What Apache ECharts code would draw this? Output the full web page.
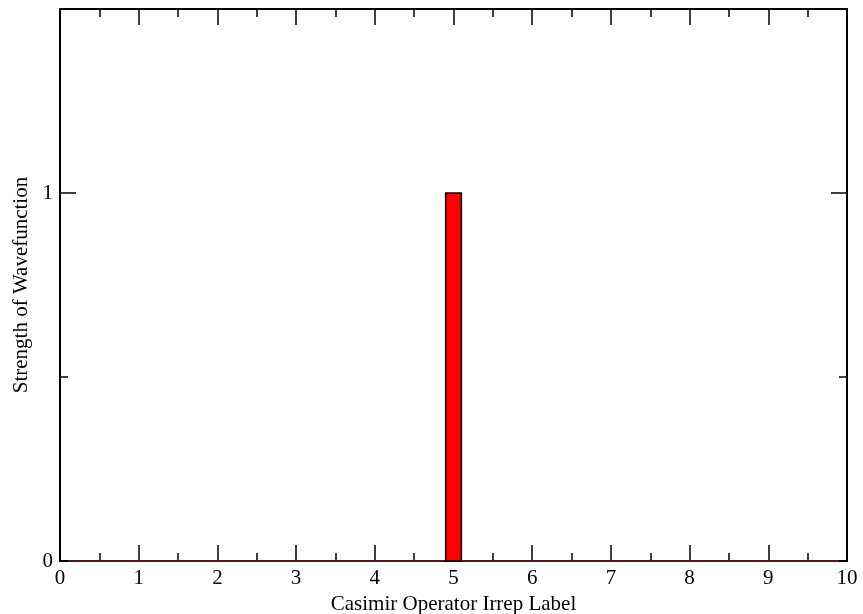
<!DOCTYPE html>
<html><head><meta charset="utf-8">
<script src="https://cdn.jsdelivr.net/npm/echarts@6/dist/echarts.min.js"></script>
<style>html,body{margin:0;padding:0;background:#fff}#c{width:863px;height:614px}</style>
</head><body><div id="c"></div>
<script>
// Bin centres (Casimir operator irrep label) and strengths
var binCenters = [0.2,0.4,0.6,0.8,1.0,1.2,1.4,1.6,1.8,2.0,2.2,2.4,2.6,2.8,3.0,3.2,3.4,3.6,3.8,4.0,4.2,4.4,4.6,4.8,5.0,5.2,5.4,5.6,5.8,6.0,6.2,6.4,6.6,6.8,7.0,7.2,7.4,7.6,7.8,8.0,8.2,8.4,8.6,8.8,9.0,9.2,9.4,9.6,9.8];
var strengths  = [0,0,0,0,0,0,0,0,0,0,0,0,0,0,0,0,0,0,0,0,0,0,0,0,1,0,0,0,0,0,0,0,0,0,0,0,0,0,0,0,0,0,0,0,0,0,0,0,0];
var binWidth = 0.2;
var xTicks = [0,1,2,3,4,5,6,7,8,9,10];
var yTicks = [0,1];

var data = binCenters.map(function(x,i){return [x, strengths[i]];});
var font = 'Liberation Serif';
var chart = echarts.init(document.getElementById('c'));
function xAx(pos, show){
  return {type:'value', position:pos, min:0, max:10, interval:1,
    axisLine:{show:true, onZero:false, lineStyle:{color:'#000', width:2}},
    axisTick:{show:true, inside:true, length:16, lineStyle:{color:'#000', width:1.5}},
    minorTick:{show:true, splitNumber:2, length:8, lineStyle:{color:'#000', width:1.5}},
    splitLine:{show:false},
    axisLabel:{show:show, color:'#000', fontFamily:font, fontSize:21, margin:7,
      formatter:function(v){return xTicks.indexOf(v)>=0?String(v):'';}},
    name: show?'Casimir Operator Irrep Label':'', nameLocation:'middle', nameGap:28,
    nameTextStyle:{color:'#000', fontFamily:font, fontSize:21}};
}
function yAx(pos, show){
  return {type:'value', position:pos, min:0, max:1.5, interval:1,
    axisLine:{show:true, onZero:false, lineStyle:{color:'#000', width:2}},
    axisTick:{show:true, inside:true, length:16, lineStyle:{color:'#000', width:1.5}},
    minorTick:{show:true, splitNumber:2, length:8, lineStyle:{color:'#000', width:1.5}},
    splitLine:{show:false},
    axisLabel:{show:show, color:'#000', fontFamily:font, fontSize:21, margin:7,
      formatter:function(v){return yTicks.indexOf(v)>=0?String(v):'';}},
    name: show?'Strength of Wavefunction':'', nameLocation:'middle', nameGap:28,
    nameTextStyle:{color:'#000', fontFamily:font, fontSize:21}};
}
chart.setOption({
  animation:false,
  grid:{left:60, right:16, top:9, bottom:53, containLabel:false, outerBoundsMode:'none'},
  xAxis:[xAx('bottom', true), xAx('top', false)],
  yAxis:[yAx('left', true), yAx('right', false)],
  series:[{
    type:'custom', xAxisIndex:0, yAxisIndex:0, data:data, clip:false,
    renderItem:function(params, api){
      var x = api.value(0), y = api.value(1);
      var p0 = api.coord([x-binWidth/2, 0]);
      var p1 = api.coord([x+binWidth/2, y]);
      return {type:'rect', z2:10,
        shape:{x:p0[0], y:p1[1], width:p1[0]-p0[0], height:p0[1]-p1[1]},
        style:{fill:'#ff0000', stroke: y>0?'#000':'#7a1a1a', lineWidth:1.5}};
    },
    encode:{x:0, y:1}
  }]
});
</script></body></html>
